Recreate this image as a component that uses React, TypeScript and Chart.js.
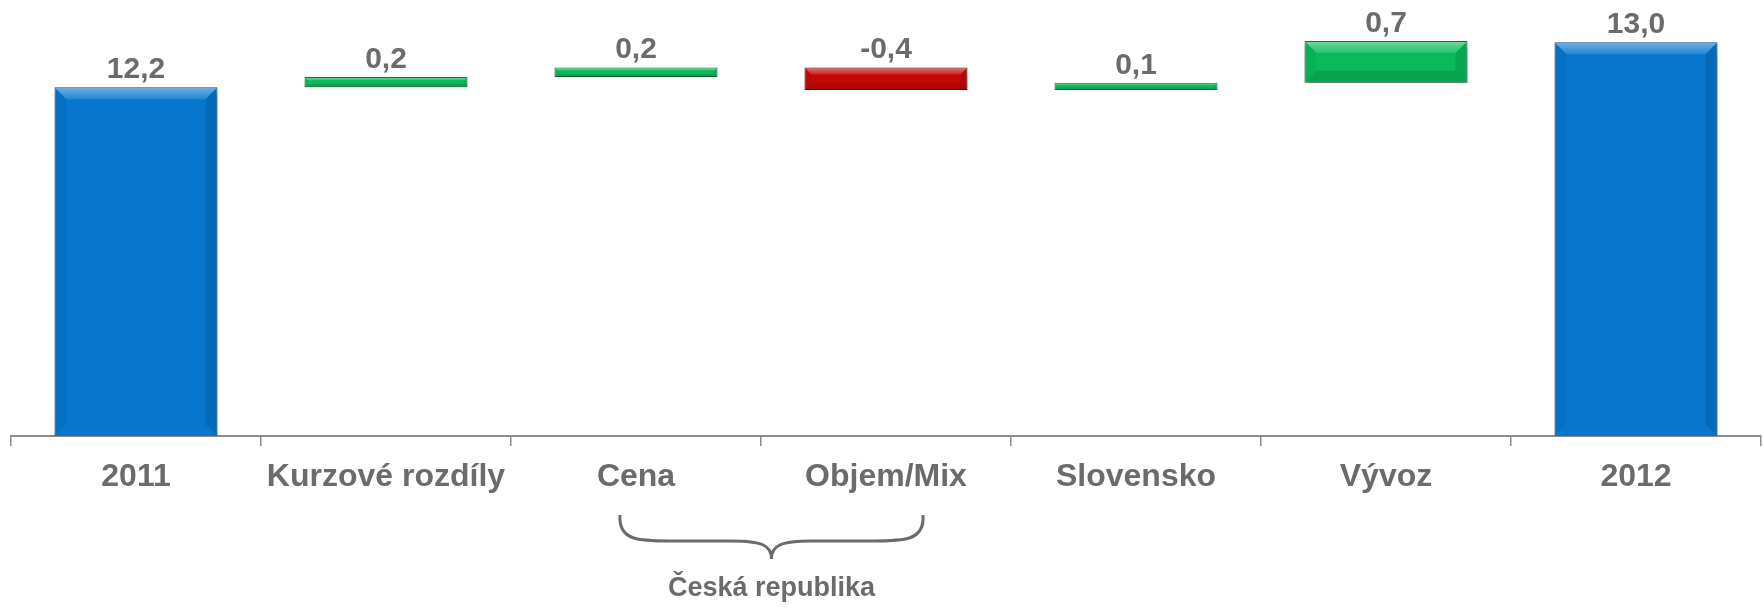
import React, { useEffect, useRef } from "react";
import { Chart, registerables } from "chart.js";

Chart.register(...registerables);

const categories = ["2011", "Kurzové rozdíly", "Cena", "Objem/Mix", "Slovensko", "Vývoz", "2012"];
const values = [12.2, 0.18, 0.17, -0.4, 0.13, 0.74, 13.0];
const isTotal = [true, false, false, false, false, false, true];
const groupLabel = "Česká republika";
const groupStart = 2; // Cena
const groupEnd = 3; // Objem/Mix

const BLUE = "#0776CC";
const BLUE_BORDER = "#0B4E8C";
const GREEN = "#08BA5A";
const GREEN_BORDER = "#0B7A3C";
const RED = "#C40808";
const RED_BORDER = "#850000";
const TEXT = "#6B6B6B";
const FONT = "'Liberation Sans', Arial, sans-serif";

function buildRanges(): [number, number][] {
  let running = 0;
  return values.map((v, i) => {
    if (isTotal[i]) {
      running = v;
      return [0, v] as [number, number];
    }
    const r: [number, number] = [running, running + v];
    running += v;
    return r;
  });
}

const fmt = (v: number) => v.toFixed(1).replace(".", ",");

export default function App() {
  const ref = useRef<HTMLCanvasElement | null>(null);

  useEffect(() => {
    if (!ref.current) return;
    const ranges = buildRanges();
    const colors = values.map((v, i) => (isTotal[i] ? BLUE : v >= 0 ? GREEN : RED));
    const borders = values.map((v, i) => (isTotal[i] ? BLUE_BORDER : v >= 0 ? GREEN_BORDER : RED_BORDER));

    const decor = {
      id: "decor",
      beforeDatasetsDraw(chart: any) {
        const ctx = chart.ctx;
        ctx.save();
        ctx.shadowColor = "rgba(0,0,0,0.4)";
        ctx.shadowBlur = 8;
        ctx.shadowOffsetY = 5;
        ctx.shadowOffsetX = 1;
      },
      afterDatasetsDraw(chart: any) {
        const ctx = chart.ctx;
        ctx.restore();
        const area = chart.chartArea;
        const meta = chart.getDatasetMeta(0);
        // bevels
        meta.data.forEach((bar: any) => {
          const half = bar.width / 2;
          const l = bar.x - half + 1;
          const r = bar.x + half - 1;
          const t = Math.max(Math.min(bar.y, bar.base), area.top) + 1;
          const rawBot = Math.max(bar.y, bar.base);
          const bot = Math.min(rawBot, area.bottom) - 1;
          const h = bot - t;
          const b = Math.min(11, h * 0.28);
          ctx.save();
          const g = ctx.createLinearGradient(0, t, 0, t + b);
          g.addColorStop(0, "rgba(255,255,255,0.4)");
          g.addColorStop(1, "rgba(255,255,255,0.12)");
          ctx.fillStyle = g;
          ctx.beginPath();
          ctx.moveTo(l, t); ctx.lineTo(r, t); ctx.lineTo(r - b, t + b); ctx.lineTo(l + b, t + b); ctx.closePath();
          ctx.fill();
          ctx.fillStyle = "rgba(0,0,0,0.04)";
          ctx.beginPath();
          ctx.moveTo(l, t); ctx.lineTo(l + b, t + b); ctx.lineTo(l + b, bot - b); ctx.lineTo(l, bot); ctx.closePath();
          ctx.fill();
          ctx.fillStyle = "rgba(0,0,0,0.1)";
          ctx.beginPath();
          ctx.moveTo(r, t); ctx.lineTo(r - b, t + b); ctx.lineTo(r - b, bot - b); ctx.lineTo(r, bot); ctx.closePath();
          ctx.fill();
          if (rawBot <= area.bottom) {
            ctx.fillStyle = "rgba(0,0,0,0.12)";
            ctx.beginPath();
            ctx.moveTo(l, bot); ctx.lineTo(r, bot); ctx.lineTo(r - b, bot - b); ctx.lineTo(l + b, bot - b); ctx.closePath();
            ctx.fill();
          }
          ctx.restore();
        });
        // value labels
        ctx.save();
        ctx.fillStyle = TEXT;
        ctx.font = `bold 30px ${FONT}`;
        ctx.textAlign = "center";
        ctx.textBaseline = "alphabetic";
        meta.data.forEach((bar: any, i: number) => {
          const top = Math.min(bar.y, bar.base);
          ctx.fillText(fmt(values[i]), bar.x, top - 9);
        });
        ctx.restore();
      },
      afterDraw(chart: any) {
        const ctx = chart.ctx;
        const xs = chart.scales.x;
        const L = xs.getPixelForValue(groupStart) - 16;
        const R = xs.getPixelForValue(groupEnd) + 37;
        const mid = (L + R) / 2;
        const y0 = 515;
        const y1 = 541;
        const y2 = 559;
        ctx.save();
        ctx.strokeStyle = TEXT;
        ctx.lineWidth = 3;
        ctx.beginPath();
        ctx.moveTo(L, y0);
        ctx.bezierCurveTo(L - 2, y1, L + 20, y1, L + 50, y1);
        ctx.lineTo(mid - 40, y1);
        ctx.bezierCurveTo(mid - 10, y1, mid, y1 + 4, mid, y2);
        ctx.bezierCurveTo(mid, y1 + 4, mid + 10, y1, mid + 40, y1);
        ctx.lineTo(R - 50, y1);
        ctx.bezierCurveTo(R - 20, y1, R + 2, y1, R, y0);
        ctx.stroke();
        ctx.fillStyle = TEXT;
        ctx.font = `bold 27px ${FONT}`;
        ctx.textAlign = "center";
        ctx.textBaseline = "middle";
        ctx.fillText(groupLabel, mid, 589);
        ctx.restore();
      },
    };

    const chart = new Chart(ref.current, {
      type: "bar",
      data: {
        labels: categories,
        datasets: [
          {
            data: ranges as any,
            backgroundColor: colors,
            borderColor: borders,
            borderWidth: 1,
            borderSkipped: false,
            barPercentage: 0.652,
            categoryPercentage: 1,
          },
        ],
      },
      options: {
        animation: false,
        responsive: false,
        layout: { padding: { left: 11, right: 2, top: 14, bottom: 0 } },
        plugins: { legend: { display: false }, tooltip: { enabled: false } },
        scales: {
          x: {
            grid: {
              offset: true,
              drawOnChartArea: false,
              drawTicks: true,
              tickLength: 10,
              color: "#8C8C8C",
              lineWidth: 1.5,
            },
            border: { display: true, color: "#8C8C8C", width: 2 },
            ticks: {
              color: TEXT,
              padding: 12,
              maxRotation: 0,
              autoSkip: false,
              font: { family: FONT, size: 32, weight: "bold" },
            },
            afterFit: (scale: any) => {
              scale.height = 172;
            },
          },
          y: {
            display: false,
            min: 6,
            max: 13.5,
          },
        },
      },
      plugins: [decor],
    });
    return () => chart.destroy();
  }, []);

  return (
    <div style={{ position: "absolute", left: 0, top: 0, width: 1763, height: 608, background: "#fff" }}>
      <canvas ref={ref} width={1763} height={608} style={{ width: 1763, height: 608 }} />
    </div>
  );
}
